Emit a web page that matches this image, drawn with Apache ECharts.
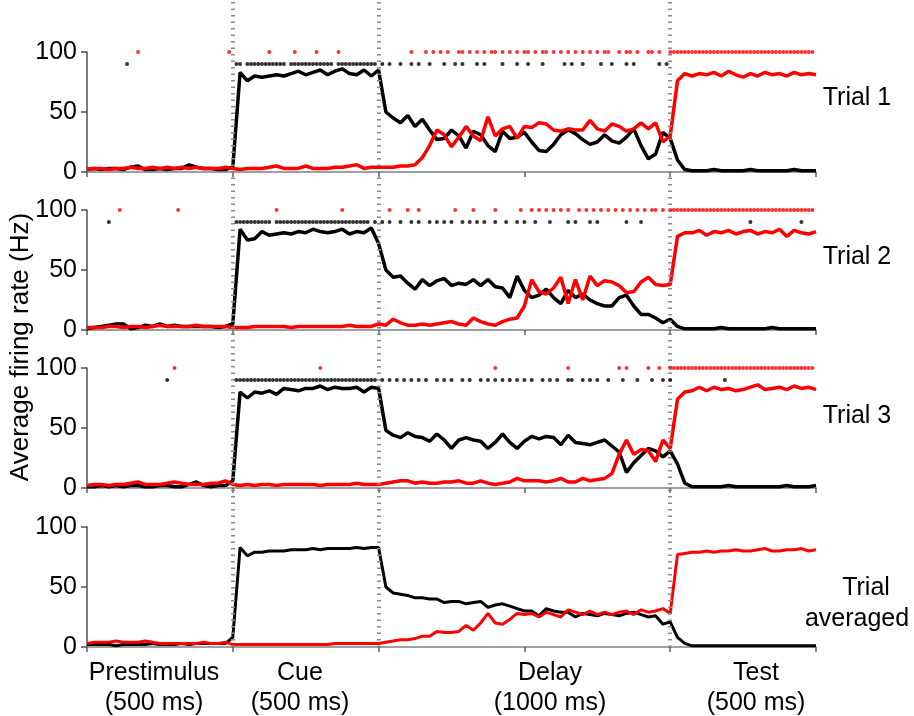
<!DOCTYPE html>
<html><head><meta charset="utf-8">
<script src="https://cdn.jsdelivr.net/npm/echarts/dist/echarts.min.js"></script>
<style>html,body{margin:0;padding:0;background:#fff}#c{width:914px;height:716px}</style>
</head><body><div id="c"></div>
<script>
// ---- data ----
const timeMs = [0,25,50,75,100,125,150,175,200,225,250,275,300,325,350,375,400,425,450,475,
500,525,550,575,600,625,650,675,700,725,750,775,800,825,850,875,900,925,950,975,1000,
1025,1050,1075,1100,1125,1150,1175,1200,1225,1250,1275,1300,1325,1350,1375,1400,1425,1450,1475,
1500,1525,1550,1575,1600,1625,1650,1675,1700,1725,1750,1775,1800,1825,1850,1875,1900,1925,1950,1975,2000,
2025,2050,2075,2100,2125,2150,2175,2200,2225,2250,2275,2300,2325,2350,2375,2400,2425,2450,2475,2500];

const trial1Black = [2,3,2,3,3,2,4,5,2,2,3,2,3,3,6,4,3,3,2,2,
4,83,76,80,79,80,81,80,82,84,81,83,85,81,84,86,82,81,85,80,85,
50,45,41,47,38,44,35,27,28,35,30,20,34,31,22,17,34,28,29,33,25,18,17,23,31,35,32,27,23,25,31,26,24,29,36,22,11,15,33,28,
10,2,1,1,1,2,1,1,1,1,2,1,1,1,1,1,2,1,1,1];
const trial1Red = [2,3,3,2,3,3,4,3,3,4,3,4,3,4,3,4,3,3,3,4,
3,2,3,3,3,4,5,3,3,3,5,3,3,3,4,4,5,6,3,4,4,
4,4,5,5,6,12,22,35,31,21,29,38,30,26,46,30,36,38,28,38,37,41,40,35,34,36,35,35,43,36,34,40,38,34,36,41,36,41,25,30,
76,82,80,82,81,83,80,84,81,79,82,80,83,81,82,80,83,81,82,81];

const trial2Black = [1,2,3,4,5,5,1,2,4,3,5,3,4,3,3,3,3,3,2,3,
5,84,75,76,82,79,80,81,80,82,81,84,82,81,82,84,80,82,81,85,72,
50,44,45,39,34,42,37,41,43,37,39,38,42,37,42,36,35,27,45,33,27,29,34,27,22,33,27,30,25,22,20,20,27,29,20,13,13,10,6,9,
3,1,1,1,1,1,2,1,1,1,1,1,1,2,1,1,1,1,1,1];
const trial2Red = [2,2,2,3,3,2,3,3,2,3,4,3,3,3,3,4,3,3,3,3,
2,2,2,3,3,3,3,3,2,3,3,3,3,3,3,3,4,3,3,3,5,
4,9,6,4,4,5,4,5,6,7,5,4,10,7,5,4,7,9,10,20,42,32,30,35,44,22,42,25,45,37,41,40,37,31,32,40,44,38,37,38,
78,81,81,83,79,82,81,83,80,82,83,80,82,81,84,78,83,81,80,82];

const trial3Black = [1,1,2,1,2,1,2,2,1,1,2,2,1,1,3,5,2,1,2,2,
6,80,75,80,79,81,78,83,82,81,83,83,85,82,84,83,83,84,80,84,83,
48,44,42,46,43,42,39,45,40,33,40,42,40,39,33,38,45,38,33,39,43,41,43,42,36,44,38,37,36,38,40,35,30,13,21,27,33,31,26,31,
20,4,1,1,1,1,1,2,1,1,1,1,1,1,1,2,1,1,1,2];
const trial3Red = [2,3,3,2,3,3,4,5,3,3,3,4,5,4,3,3,3,4,4,6,
3,2,3,2,3,3,2,3,3,3,3,3,2,3,3,3,3,4,3,3,3,
4,5,6,6,4,5,4,4,5,5,6,4,4,6,4,3,4,5,8,6,6,6,5,6,8,5,5,8,6,7,8,12,28,40,28,32,31,22,40,33,
74,80,81,84,81,84,82,83,81,82,84,86,82,83,84,82,85,83,84,82];

const avgBlack = [2,2,2,2,1,2,2,2,2,3,2,2,2,3,2,3,3,3,3,3,
8,83,76,79,79,80,80,80,81,81,81,82,81,82,82,82,82,83,82,83,83,
50,45,44,43,41,41,40,40,37,38,38,36,37,38,33,35,36,34,32,30,30,26,32,30,29,29,25,28,27,26,28,27,26,28,29,27,25,26,19,21,
8,3,1,1,1,1,1,1,1,1,1,1,1,1,1,1,1,1,1,1];
const avgRed = [3,4,4,4,5,4,4,4,5,4,3,3,3,3,3,3,4,3,3,4,
2,2,2,2,2,2,2,2,2,2,2,2,2,2,3,3,3,3,3,3,3,
4,5,6,6,7,9,9,13,12,12,13,18,14,20,28,20,19,23,28,27,28,25,29,27,25,31,29,27,30,27,29,27,29,30,27,31,29,30,32,28,
77,78,79,79,80,79,80,80,81,80,80,81,82,80,80,81,81,82,80,81];

// significance dots: bin indices (12.5 ms bins)
const dotBinMs = 12.5;
const redDotLevel = 100, blackDotLevel = 90;
const trial1RedDots = [14,39,50,57,63,69,89,93,95,97,99,102,103,105,107,109,111,112,114,116,118,120,121,123,125,126,128,130,132,134,136,138,140,142,143,146,148,149,151,154,155,157,
160,161,162,163,164,165,166,167,168,169,170,171,172,173,174,175,176,177,178,179,180,181,182,183,184,185,186,187,188,189,190,191,192,193,194,195,196,197,198,199];
const trial1BlackDots = [11,41,42,44,45,46,47,48,49,50,51,52,53,54,56,57,58,59,60,61,62,63,64,65,66,67,69,70,71,72,73,74,75,76,77,78,79,81,83,86,89,91,94,98,101,103,107,109,114,118,121,125,131,133,136,141,144,148,150,157,159];
const trial2RedDots = [9,25,52,70,83,88,91,101,106,112,119,122,124,126,128,130,132,135,137,139,141,143,145,147,149,151,153,155,156,158,
160,161,162,163,164,165,166,167,168,169,170,171,172,173,174,175,176,177,178,179,180,181,182,183,184,185,186,187,188,189,190,191,192,193,194,195,196,197,198,199];
const trial2BlackDots = [6,41,42,43,44,45,46,47,48,49,50,52,53,54,55,56,57,58,59,60,61,62,63,64,65,66,67,68,69,70,71,72,73,74,75,76,77,79,81,83,86,89,91,94,96,98,100,103,105,107,109,112,115,118,120,123,127,132,134,138,140,148,152,182,196];
const trial3RedDots = [24,64,112,132,146,148,154,157,
160,161,162,163,164,165,166,167,168,169,170,171,172,173,174,175,176,177,178,179,180,181,182,183,184,185,186,187,188,189,190,191,192,193,194,195,196,197,198,199];
const trial3BlackDots = [22,41,42,43,44,45,46,47,48,49,50,51,52,53,54,55,56,57,58,59,60,61,62,63,64,65,66,67,68,69,70,71,72,73,74,75,76,77,78,79,81,83,85,87,89,91,93,96,98,100,103,105,108,110,112,114,116,118,120,122,125,127,129,132,133,136,138,140,143,147,151,155,158,160,175];

const panelNames = ['Trial 1','Trial 2','Trial 3'];
const avgLabelLines = ['Trial','averaged'];
const epochNames = ['Prestimulus','Cue','Delay','Test'];
const epochDurations = ['(500 ms)','(500 ms)','(1000 ms)','(500 ms)'];
const epochBoundariesMs = [500,1000,2000];
const yTitle = 'Average firing rate (Hz)';

// ---- layout ----
const FONT = '"Liberation Sans", Arial, sans-serif';
const gridLeft = 87, gridWidth = 729;
const panelTops = [52, 210, 368, 527];
const panelHeight = 120;

const panels = [
  {black: trial1Black, red: trial1Red, redDots: trial1RedDots, blackDots: trial1BlackDots, w: 3.5},
  {black: trial2Black, red: trial2Red, redDots: trial2RedDots, blackDots: trial2BlackDots, w: 3.5},
  {black: trial3Black, red: trial3Red, redDots: trial3RedDots, blackDots: trial3BlackDots, w: 3.5},
  {black: avgBlack, red: avgRed, redDots: [], blackDots: [], w: 3}
];

const pairs = vals => timeMs.map((t, i) => [t, vals[i]]);
const dotPairs = (idx, lvl) => idx.map(k => [k * dotBinMs, lvl]);

const grid = [], xAxis = [], yAxis = [], series = [];
panels.forEach((p, i) => {
  grid.push({left: gridLeft, width: gridWidth, top: panelTops[i], height: panelHeight});
  xAxis.push({gridIndex: i, type: 'value', min: 0, max: 2500, interval: 500,
    axisLine: {show: true, lineStyle: {color: '#808080', width: 1.5}},
    axisTick: {show: true, length: 5, lineStyle: {color: '#606060', width: 1.5}},
    axisLabel: {show: false}, splitLine: {show: false}});
  yAxis.push({gridIndex: i, type: 'value', min: 0, max: 100, interval: 50,
    axisLine: {show: true, lineStyle: {color: '#505050', width: 1.5}},
    axisTick: {show: true, length: 6, lineStyle: {color: '#505050', width: 1.5}},
    axisLabel: {fontSize: 25, color: '#000', fontFamily: FONT, margin: 10},
    splitLine: {show: false}});
  series.push({type: 'line', xAxisIndex: i, yAxisIndex: i, data: pairs(p.black), showSymbol: false,
    lineStyle: {color: '#000', width: p.w}, z: 3, silent: true});
  series.push({type: 'line', xAxisIndex: i, yAxisIndex: i, data: pairs(p.red), showSymbol: false,
    lineStyle: {color: '#ff0000', width: p.w}, z: 4, silent: true});
  if (p.redDots.length) series.push({type: 'scatter', xAxisIndex: i, yAxisIndex: i, clip: false,
    data: dotPairs(p.redDots, redDotLevel), symbolSize: 4, itemStyle: {color: '#ff0000'}, z: 5, silent: true});
  if (p.blackDots.length) series.push({type: 'scatter', xAxisIndex: i, yAxisIndex: i, clip: false,
    data: dotPairs(p.blackDots, blackDotLevel), symbolSize: 4, itemStyle: {color: '#000'}, z: 5, silent: true});
});

// overlay grid for the epoch boundary lines
grid.push({left: gridLeft, width: gridWidth, top: 0, height: 647});
xAxis.push({gridIndex: 4, type: 'value', min: 0, max: 2500, show: false});
yAxis.push({gridIndex: 4, type: 'value', min: 0, max: 1, show: false});
series.push({type: 'line', xAxisIndex: 4, yAxisIndex: 4, data: [[0, 0]], showSymbol: false,
  lineStyle: {opacity: 0}, z: 1, silent: true,
  markLine: {silent: true, symbol: 'none', label: {show: false}, animation: false,
    lineStyle: {color: '#8a8a8a', width: 4, type: [1.5, 5]},
    data: epochBoundariesMs.map(v => ({xAxis: v}))}});

// texts
const graphic = [];
const txt = (text, x, y, size, extra) => Object.assign({type: 'text', x: x, y: y, silent: true,
  style: {text: text, font: size + 'px ' + FONT, fill: '#000', align: 'center', verticalAlign: 'middle'}}, extra || {});
graphic.push(txt(yTitle, 21, 347, 26, {rotation: Math.PI / 2}));
const panelLabelY = [98, 257, 416];
panelNames.forEach((n, i) => graphic.push(txt(n, 857, panelLabelY[i], 25)));
graphic.push(txt(avgLabelLines[0], 866, 588, 25));
graphic.push(txt(avgLabelLines[1], 857, 619, 25));
const epochX = [154, 300, 550, 756];
epochNames.forEach((n, i) => {
  graphic.push(txt(n, epochX[i], 673, 25));
  graphic.push(txt(epochDurations[i], epochX[i], 703, 25));
});

const chart = echarts.init(document.getElementById('c'), null, {renderer: 'canvas'});
chart.setOption({animation: false, backgroundColor: '#fff', grid, xAxis, yAxis, series, graphic});
</script>
</body></html>
